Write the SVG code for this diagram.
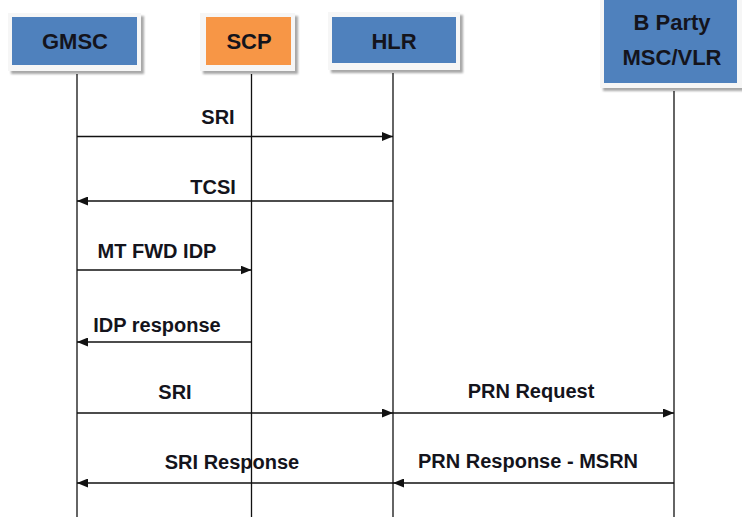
<svg xmlns="http://www.w3.org/2000/svg" width="742" height="519" viewBox="0 0 742 519">
  <defs>
    <marker id="arrow" viewBox="0 0 11 9" refX="11" refY="4.5" markerWidth="11" markerHeight="9" markerUnits="userSpaceOnUse" orient="auto">
      <path d="M0,0 L11,4.5 L0,9 Z" fill="#111"/>
    </marker>
    <filter id="shadow" x="-10%" y="-10%" width="130%" height="140%">
      <feGaussianBlur stdDeviation="1.2"/>
    </filter>
  </defs>
  <style>
    .frame { fill: #f6f6f6; }
    .shade { fill: #a8a8a8; filter: url(#shadow); }
    .blue { fill: #4f81bd; }
    .orange { fill: #f79646; }
    .title { font-family: "Liberation Sans", Arial, sans-serif; font-weight: bold; font-size: 22px; fill: #14141c; text-anchor: middle; }
    .lifeline { stroke: #111; stroke-width: 1.3; fill: none; }
    .msg { stroke: #111; stroke-width: 1.3; fill: none; marker-end: url(#arrow); }
    .label { font-family: "Liberation Sans", Arial, sans-serif; font-weight: bold; font-size: 20px; fill: #14141c; text-anchor: middle; }
  </style>
  <rect width="742" height="519" fill="#ffffff"/>

  <g id="gmsc">
    <rect class="shade" x="11" y="16" width="133" height="58"/>
    <rect class="frame" x="8" y="13" width="133" height="58"/>
    <rect class="blue" x="12" y="17" width="125" height="48"/>
    <text class="title" x="75" y="49">GMSC</text>
  </g>

  <g id="scp">
    <rect class="shade" x="203" y="16" width="95" height="58"/>
    <rect class="frame" x="200" y="13" width="95" height="58"/>
    <rect class="orange" x="206" y="17" width="85" height="48"/>
    <text class="title" x="249" y="49">SCP</text>
  </g>

  <g id="hlr">
    <rect class="shade" x="331" y="15" width="132" height="58"/>
    <rect class="frame" x="328" y="12" width="132" height="58"/>
    <rect class="blue" x="332" y="17" width="124" height="46"/>
    <text class="title" x="394" y="49">HLR</text>
  </g>

  <g id="bparty">
    <rect class="shade" x="603" y="0" width="142" height="91"/>
    <rect class="frame" x="600" y="0" width="142" height="88"/>
    <rect class="blue" x="604" y="0" width="133" height="83"/>
    <text class="title" x="672" y="30">B Party</text>
    <text class="title" x="672" y="65">MSC/VLR</text>
  </g>

  <g id="lifelines">
    <line class="lifeline" x1="77" y1="74" x2="77" y2="517"/>
    <line class="lifeline" x1="251.5" y1="74" x2="251.5" y2="517"/>
    <line class="lifeline" x1="393" y1="73" x2="393" y2="517"/>
    <line class="lifeline" x1="674" y1="91" x2="674" y2="517"/>
  </g>

  <g id="connectors">
    <line class="msg" x1="77" y1="136.5" x2="393" y2="136.5"/>
    <line class="msg" x1="393" y1="201" x2="77" y2="201"/>
    <line class="msg" x1="77" y1="270" x2="251.5" y2="270"/>
    <line class="msg" x1="251.5" y1="342" x2="77" y2="342"/>
    <line class="msg" x1="77" y1="413" x2="393" y2="413"/>
    <line class="msg" x1="393" y1="413" x2="674" y2="413"/>
    <line class="msg" x1="674" y1="483" x2="393" y2="483"/>
    <line class="msg" x1="393" y1="483" x2="77" y2="483"/>
  </g>

  <g id="labels">
    <text class="label" x="218" y="124">SRI</text>
    <text class="label" x="213" y="194">TCSI</text>
    <text class="label" x="157" y="258">MT FWD IDP</text>
    <text class="label" x="157" y="332">IDP response</text>
    <text class="label" x="175" y="399">SRI</text>
    <text class="label" x="531" y="398">PRN Request</text>
    <text class="label" x="232" y="469">SRI Response</text>
    <text class="label" x="528" y="468">PRN Response - MSRN</text>
  </g>
</svg>
